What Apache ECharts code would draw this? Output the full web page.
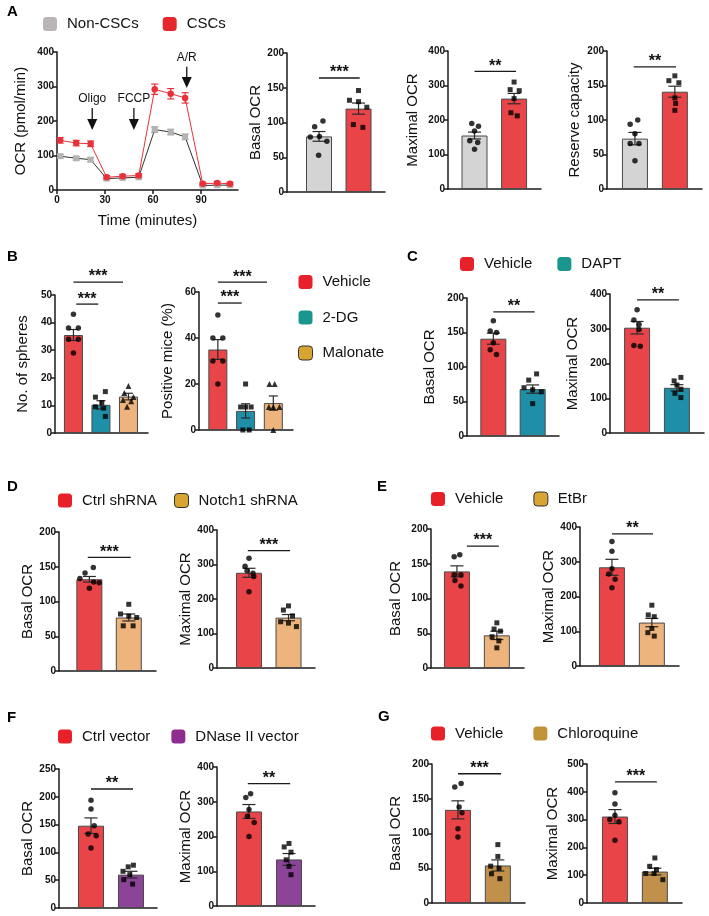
<!doctype html>
<html lang="en">
<head>
<meta charset="UTF-8">
<title>OCR panels</title>
<script src="https://cdn.jsdelivr.net/npm/echarts@6/dist/echarts.min.js"></script>
<style>
  html, body { margin: 0; padding: 0; background: #fff; }
  #main { width: 709px; height: 916px; }
</style>
</head>
<body>
<div id="main"></div>
<script>
// ---------- data ----------
// A: Seahorse trace
var timeMin      = [2, 12, 21, 31, 41, 51, 61, 71, 80, 91, 100, 108];
var ocrNonCsc    = [98, 92, 88, 33, 35, 37, 175, 168, 154, 13, 14, 14];
var ocrNonCscSem = [5, 5, 6, 4, 4, 4, 8, 8, 8, 3, 3, 3];
var ocrCsc       = [144, 136, 134, 37, 40, 42, 292, 279, 267, 18, 20, 18];
var ocrCscSem    = [8, 8, 8, 5, 5, 5, 15, 15, 15, 4, 4, 4];
var injections   = [['Oligo', 22, 238, 174], ['FCCP', 48, 238, 174], ['A/R', 81, 357, 296]];

// A bars
var aGroups = ['Non-CSCs', 'CSCs'];
var aBasalMean = [80, 120], aBasalSem = [7, 8];
var aBasalPts = [
  [[-0.22, 79], [-0.11, 94], [0.1, 102], [0.01, 80], [0.2, 73], [-0.01, 53]],
  [[0, 146], [-0.23, 132], [0, 130], [0.21, 122], [-0.13, 97], [0.11, 93]]
];
var aBasalSig = [[0, 1.03, 164, '***']];
var aMaxMean = [155, 262], aMaxSem = [10, 15];
var aMaxPts = [
  [[-0.07, 190], [0.1, 182], [0, 168], [-0.12, 140], [0.08, 135], [0, 115]],
  [[0, 310], [-0.1, 288], [0.13, 285], [0, 262], [-0.08, 221], [0.08, 212]]
];
var aMaxSig = [[0, 1.05, 341, '**']];
var aResMean = [73, 141], aResSem = [9, 8];
var aResPts = [
  [[-0.12, 94], [0.07, 100], [0, 80], [-0.12, 66], [0.1, 66], [0, 41]],
  [[0, 164], [-0.15, 157], [0.1, 154], [0, 132], [0.02, 124], [0, 114]]
];
var aResSig = [[-0.03, 1.03, 177, '**']];

// B
var bGroups = ['Vehicle', '2-DG', 'Malonate'];
var bSpheresMean = [35.5, 10.2, 13.2], bSpheresSem = [2, 1.5, 1.2];
var bSpheresPts = [
  [[0, 43], [-0.18, 38], [0.18, 38], [-0.18, 34], [0.18, 34], [0, 29]],
  [[0.16, 15], [-0.2, 13], [0.03, 11], [-0.2, 9.5], [0.1, 9], [0.16, 6]],
  [[0, 17], [-0.15, 14.5], [0.18, 13], [-0.2, 12], [0.1, 11.5], [-0.05, 9.5]]
];
var bSpheresSig = [[0, 1.8, 54.7, '***'], [0.1, 0.9, 46.7, '***']];
var bMiceMean = [35, 8.3, 11.7], bMiceSem = [4.3, 3.1, 3.1];
var bMicePts = [
  [[0, 50], [-0.18, 40], [0.18, 40], [-0.18, 30], [0.18, 30], [0, 20]],
  [[0, 20], [-0.18, 10], [0, 10], [0.2, 10], [-0.1, 0], [0.13, 0]],
  [[-0.14, 20], [0.05, 20], [-0.16, 10], [0, 10], [0.22, 10], [0, 0]]
];
var bMiceSig = [[0, 1.77, 64.3, '***'], [0, 0.86, 55.2, '***']];

// C
var cGroups = ['Vehicle', 'DAPT'];
var cBasalMean = [141, 68], cBasalSem = [8, 6];
var cBasalPts = [
  [[0, 167], [-0.08, 152], [0.08, 150], [0, 135], [-0.08, 125], [0.08, 118]],
  [[0.1, 90], [-0.1, 81], [-0.22, 70], [0, 67], [0.22, 64], [0, 47]]
];
var cBasalSig = [[0, 1.05, 180, '**']];
var cMaxMean = [303, 130], cMaxSem = [18, 9];
var cMaxPts = [
  [[0, 355], [-0.08, 325], [0.05, 312], [0.05, 298], [-0.08, 252], [0.08, 250]],
  [[0.1, 160], [-0.07, 150], [0, 138], [0.1, 126], [-0.05, 114], [0.1, 102]]
];
var cMaxSig = [[0, 1.05, 383, '**']];

// D
var dGroups = ['Ctrl shRNA', 'Notch1 shRNA'];
var dBasalMean = [132, 77], dBasalSem = [4, 5];
var dBasalPts = [
  [[0.1, 149], [-0.11, 141], [-0.24, 133], [0.11, 128], [0.25, 127], [0, 119]],
  [[0, 96], [-0.21, 82], [0, 79], [0.2, 77], [-0.14, 65], [0.11, 65]]
];
var dBasalSig = [[-0.04, 1.05, 163.6, '***']];
var dMaxMean = [276, 146], dMaxSem = [13, 9];
var dMaxPts = [
  [[0, 318], [-0.1, 295], [-0.05, 282], [0.1, 275], [0.12, 265], [0, 221]],
  [[0, 180], [-0.13, 168], [0.1, 151], [-0.2, 134], [0, 130], [0.2, 120]]
];
var dMaxSig = [[-0.03, 1.04, 340, '***']];

// E
var eGroups = ['Vehicle', 'EtBr'];
var eBasalMean = [139, 47], eBasalSem = [8, 6];
var eBasalPts = [
  [[-0.07, 160], [0.07, 163], [-0.07, 134], [0.1, 134], [-0.05, 126], [0.1, 118]],
  [[0, 65], [-0.07, 56], [0.09, 53], [-0.12, 45], [0.05, 39], [0, 29]]
];
var eBasalSig = [[0.25, 1.05, 175.5, '***']];
var eMaxMean = [284, 125], eMaxSem = [23, 12];
var eMaxPts = [
  [[0, 358], [0, 330], [0, 280], [-0.08, 265], [0.08, 250], [0, 225]],
  [[0, 175], [-0.09, 147], [0.06, 142], [0, 108], [-0.1, 96], [0.06, 86]]
];
var eMaxSig = [[0, 1.03, 380, '**']];

// F
var fGroups = ['Ctrl vector', 'DNase II vector'];
var fBasalMean = [148, 60], fBasalSem = [14, 6];
var fBasalPts = [
  [[0, 194], [0, 178], [0.08, 148], [-0.07, 133], [0.13, 130], [0, 108]],
  [[0.06, 77], [-0.07, 74], [-0.2, 66], [-0.03, 60], [-0.18, 51], [0.04, 43]]
];
var fBasalSig = [[0, 1.05, 214, '**']];
var fMaxMean = [272, 134], fMaxSem = [20, 17];
var fMaxPts = [
  [[0.04, 323], [-0.08, 312], [0, 278], [-0.04, 258], [0.13, 240], [0, 200]],
  [[0, 180], [-0.12, 170], [0.05, 155], [-0.07, 133], [0, 114], [0.05, 90]]
];
var fMaxSig = [[-0.03, 1.03, 352, '**']];

// G
var gGroups = ['Vehicle', 'Chloroquine'];
var gBasalMean = [134, 54], gBasalSem = [13, 8];
var gBasalPts = [
  [[0.08, 172], [-0.08, 167], [0.03, 138], [0.1, 130], [0, 107], [0, 95]],
  [[0, 84], [0, 67], [-0.18, 53], [0.03, 50], [-0.16, 42], [0.05, 35]]
];
var gBasalSig = [[0, 1.08, 186, '***']];
var gMaxMean = [311, 113], gMaxSem = [25, 12];
var gMaxPts = [
  [[0, 397], [0, 356], [0, 316], [-0.13, 300], [0.1, 292], [0, 226]],
  [[0, 162], [-0.13, 132], [0.04, 120], [-0.23, 106], [-0.02, 106], [0.2, 84]]
];
var gMaxSig = [[0, 1.05, 436, '***']];

// ---------- styles ----------
var FONT = '"Liberation Sans", Arial, Helvetica, sans-serif';
var INK = '#1b1b1b';
var RED = '#E94548', GRAY = '#D4D4D4', TEAL = '#1E8FA7', TAN = '#EEB47E',
    PURPLE = '#8B4497', BROWN = '#C1914C';

var axisLine = { show: true, onZero: false, lineStyle: { color: INK, width: 1.5 } };
var yTick = { show: true, length: 4, lineStyle: { color: INK, width: 1.5 } };
var tickLabel = { fontFamily: FONT, fontSize: 10, fontWeight: 'bold', color: '#111', margin: 3 };
var nameFont = { fontFamily: FONT, fontSize: 15, color: '#111' };

var grids = [], xAxes = [], yAxes = [], series = [];

function errorBars(capHalf, color) {
  return function (params, api) {
    var x = api.value(0), m = api.value(1), e = api.value(2);
    var hi = api.coord([x, m + e]), lo = api.coord([x, m - e]);
    var st = { stroke: color, lineWidth: 1.2 };
    return { type: 'group', children: [
      { type: 'line', shape: { x1: hi[0], y1: hi[1], x2: lo[0], y2: lo[1] }, style: st },
      { type: 'line', shape: { x1: hi[0] - capHalf, y1: hi[1], x2: hi[0] + capHalf, y2: hi[1] }, style: st },
      { type: 'line', shape: { x1: lo[0] - capHalf, y1: lo[1], x2: lo[0] + capHalf, y2: lo[1] }, style: st }
    ] };
  };
}

function sigRender(list) {
  return function (params, api) {
    var s = list[params.dataIndex];
    var a = api.coord([s[0], s[2]]), b = api.coord([s[1], s[2]]);
    return { type: 'group', children: [
      { type: 'line', shape: { x1: a[0], y1: a[1], x2: b[0], y2: b[1] }, style: { stroke: INK, lineWidth: 1.3 } },
      { type: 'text', x: (a[0] + b[0]) / 2, y: a[1] - 5,
        style: { text: s[3], font: 'bold 16px ' + FONT, fill: '#111', align: 'center', verticalAlign: 'middle' } }
    ] };
  };
}

function addBarChart(cfg) {
  var gi = grids.length;
  grids.push({ left: cfg.box[0], top: cfg.box[1], width: cfg.box[2], height: cfg.box[3], outerBoundsMode: 'none' });
  xAxes.push({ gridIndex: gi, type: 'value', min: cfg.xRange[0], max: cfg.xRange[1],
    axisLine: axisLine, axisTick: { show: false }, axisLabel: { show: false }, splitLine: { show: false } });
  yAxes.push({ gridIndex: gi, type: 'value', min: 0, max: cfg.yMax, interval: cfg.yStep,
    name: cfg.yName, nameLocation: 'middle', nameGap: cfg.nameGap, nameRotate: 90, nameTextStyle: nameFont,
    axisLine: axisLine, axisTick: yTick, axisLabel: tickLabel, splitLine: { show: false } });
  var three = cfg.groups.length === 3;
  cfg.groups.forEach(function (name, i) {
    series.push({ type: 'bar', name: name, xAxisIndex: gi, yAxisIndex: gi,
      barWidth: three ? 19 : 26, barGap: '-100%', data: [[i, cfg.mean[i]]],
      itemStyle: { color: cfg.colors[i], borderColor: '#4a4a4a', borderWidth: 1 }, z: 2 });
  });
  series.push({ type: 'custom', xAxisIndex: gi, yAxisIndex: gi, z: 3,
    renderItem: errorBars(three ? 4.5 : 6.5, '#2a2a2a'),
    data: cfg.mean.map(function (m, i) { return [i, m, cfg.sem[i]]; }) });
  cfg.groups.forEach(function (name, i) {
    var sym = cfg.symbols[i];
    series.push({ type: 'scatter', xAxisIndex: gi, yAxisIndex: gi, z: 4,
      symbol: sym, symbolSize: sym === 'triangle' ? 6 : (sym === 'rect' ? 5 : 5.5),
      itemStyle: { color: '#000' },
      data: cfg.pts[i].map(function (p) { return [i + p[0], p[1]]; }) });
  });
  series.push({ type: 'custom', xAxisIndex: gi, yAxisIndex: gi, z: 5,
    renderItem: sigRender(cfg.sig),
    data: cfg.sig.map(function (s) { return [s[0], s[2]]; }) });
}

// ---------- A: line chart ----------
grids.push({ left: 57, top: 52, width: 181, height: 138, outerBoundsMode: 'none' });
xAxes.push({ gridIndex: 0, type: 'value', min: 0, max: 113, interval: 30,
  name: 'Time (minutes)', nameLocation: 'middle', nameGap: 23, nameTextStyle: nameFont,
  axisLine: axisLine, axisTick: yTick,
  axisLabel: Object.assign({}, tickLabel, { margin: 5, showMaxLabel: false }), splitLine: { show: false } });
yAxes.push({ gridIndex: 0, type: 'value', min: 0, max: 400, interval: 100,
  name: 'OCR (pmol/min)', nameLocation: 'middle', nameGap: 29, nameRotate: 90, nameTextStyle: nameFont,
  axisLine: axisLine, axisTick: yTick, axisLabel: tickLabel, splitLine: { show: false } });
series.push({ type: 'line', name: 'Non-CSCs', xAxisIndex: 0, yAxisIndex: 0, z: 3,
  symbol: 'rect', symbolSize: 6, itemStyle: { color: '#B5B2B2' }, lineStyle: { color: '#333', width: 1 },
  data: timeMin.map(function (t, i) { return [t, ocrNonCsc[i]]; }) });
series.push({ type: 'custom', xAxisIndex: 0, yAxisIndex: 0, z: 2, renderItem: errorBars(3.5, '#9a9a9a'),
  data: timeMin.map(function (t, i) { return [t, ocrNonCsc[i], ocrNonCscSem[i]]; }) });
series.push({ type: 'line', name: 'CSCs', xAxisIndex: 0, yAxisIndex: 0, z: 3,
  symbol: 'circle', symbolSize: 6.5, itemStyle: { color: '#E8323A' }, lineStyle: { color: '#E8323A', width: 1 },
  data: timeMin.map(function (t, i) { return [t, ocrCsc[i]]; }) });
series.push({ type: 'custom', xAxisIndex: 0, yAxisIndex: 0, z: 2, renderItem: errorBars(3.5, '#E8323A'),
  data: timeMin.map(function (t, i) { return [t, ocrCsc[i], ocrCscSem[i]]; }) });
series.push({ type: 'custom', xAxisIndex: 0, yAxisIndex: 0, z: 4,
  renderItem: function (params, api) {
    var d = injections[params.dataIndex];
    var top = api.coord([d[1], d[2]]), tip = api.coord([d[1], d[3]]);
    return { type: 'group', children: [
      { type: 'text', x: top[0], y: top[1] - 3,
        style: { text: d[0], font: '12px ' + FONT, fill: '#111', align: 'center', verticalAlign: 'bottom' } },
      { type: 'line', shape: { x1: top[0], y1: top[1], x2: tip[0], y2: tip[1] - 9 }, style: { stroke: '#111', lineWidth: 1.3 } },
      { type: 'polygon', shape: { points: [[tip[0] - 5, tip[1] - 11], [tip[0] + 5, tip[1] - 11], [tip[0], tip[1]]] }, style: { fill: '#111' } }
    ] };
  },
  data: injections.map(function (d) { return [d[1], d[2]]; }) });

// ---------- bar panels ----------
var twoSym = ['circle', 'rect'];
addBarChart({ box: [287, 53, 98, 139], xRange: [-0.81, 1.67], yMax: 200, yStep: 50, yName: 'Basal OCR', nameGap: 23,
  groups: aGroups, colors: [GRAY, RED], symbols: twoSym, mean: aBasalMean, sem: aBasalSem, pts: aBasalPts, sig: aBasalSig });
addBarChart({ box: [448, 51, 93, 138], xRange: [-0.67, 1.68], yMax: 400, yStep: 100, yName: 'Maximal OCR', nameGap: 28,
  groups: aGroups, colors: [GRAY, RED], symbols: twoSym, mean: aMaxMean, sem: aMaxSem, pts: aMaxPts, sig: aMaxSig });
addBarChart({ box: [607, 51, 95, 138], xRange: [-0.7, 1.68], yMax: 200, yStep: 50, yName: 'Reserve capacity', nameGap: 25,
  groups: aGroups, colors: [GRAY, RED], symbols: twoSym, mean: aResMean, sem: aResSem, pts: aResPts, sig: aResSig });

addBarChart({ box: [55, 295, 93, 138], xRange: [-0.67, 2.71], yMax: 50, yStep: 10, yName: 'No. of spheres', nameGap: 25,
  groups: bGroups, colors: [RED, TEAL, TAN], symbols: ['circle', 'rect', 'triangle'], mean: bSpheresMean, sem: bSpheresSem, pts: bSpheresPts, sig: bSpheresSig });
addBarChart({ box: [199, 292, 94, 138], xRange: [-0.68, 2.71], yMax: 60, yStep: 20, yName: 'Positive mice (%)', nameGap: 24,
  groups: bGroups, colors: [RED, TEAL, TAN], symbols: ['circle', 'rect', 'triangle'], mean: bMiceMean, sem: bMiceSem, pts: bMicePts, sig: bMiceSig });

addBarChart({ box: [467, 298, 92, 138], xRange: [-0.67, 1.67], yMax: 200, yStep: 50, yName: 'Basal OCR', nameGap: 30,
  groups: cGroups, colors: [RED, TEAL], symbols: twoSym, mean: cBasalMean, sem: cBasalSem, pts: cBasalPts, sig: cBasalSig });
addBarChart({ box: [610, 294, 94, 139], xRange: [-0.68, 1.68], yMax: 400, yStep: 100, yName: 'Maximal OCR', nameGap: 30,
  groups: cGroups, colors: [RED, TEAL], symbols: twoSym, mean: cMaxMean, sem: cMaxSem, pts: cMaxPts, sig: cMaxSig });

addBarChart({ box: [59, 532, 97, 139], xRange: [-0.77, 1.69], yMax: 200, yStep: 50, yName: 'Basal OCR', nameGap: 24,
  groups: dGroups, colors: [RED, TAN], symbols: twoSym, mean: dBasalMean, sem: dBasalSem, pts: dBasalPts, sig: dBasalSig });
addBarChart({ box: [217, 530, 98, 138], xRange: [-0.81, 1.67], yMax: 400, yStep: 100, yName: 'Maximal OCR', nameGap: 23,
  groups: dGroups, colors: [RED, TAN], symbols: twoSym, mean: dMaxMean, sem: dMaxSem, pts: dMaxPts, sig: dMaxSig });

addBarChart({ box: [431, 529, 93, 139], xRange: [-0.65, 1.68], yMax: 200, yStep: 50, yName: 'Basal OCR', nameGap: 28,
  groups: eGroups, colors: [RED, TAN], symbols: twoSym, mean: eBasalMean, sem: eBasalSem, pts: eBasalPts, sig: eBasalSig });
addBarChart({ box: [580, 527, 99, 139], xRange: [-0.8, 1.68], yMax: 400, yStep: 100, yName: 'Maximal OCR', nameGap: 23,
  groups: eGroups, colors: [RED, TAN], symbols: twoSym, mean: eMaxMean, sem: eMaxSem, pts: eMaxPts, sig: eMaxSig });

addBarChart({ box: [59, 769, 98, 139], xRange: [-0.8, 1.65], yMax: 250, yStep: 50, yName: 'Basal OCR', nameGap: 23,
  groups: fGroups, colors: [RED, PURPLE], symbols: twoSym, mean: fBasalMean, sem: fBasalSem, pts: fBasalPts, sig: fBasalSig });
addBarChart({ box: [217, 767, 98, 139], xRange: [-0.8, 1.65], yMax: 400, yStep: 100, yName: 'Maximal OCR', nameGap: 24,
  groups: fGroups, colors: [RED, PURPLE], symbols: twoSym, mean: fMaxMean, sem: fMaxSem, pts: fMaxPts, sig: fMaxSig });

addBarChart({ box: [432, 764, 93, 139], xRange: [-0.65, 1.68], yMax: 200, yStep: 50, yName: 'Basal OCR', nameGap: 29,
  groups: gGroups, colors: [RED, BROWN], symbols: twoSym, mean: gBasalMean, sem: gBasalSem, pts: gBasalPts, sig: gBasalSig });
addBarChart({ box: [587, 764, 95, 139], xRange: [-0.7, 1.68], yMax: 500, yStep: 100, yName: 'Maximal OCR', nameGap: 27,
  groups: gGroups, colors: [RED, BROWN], symbols: twoSym, mean: gMaxMean, sem: gMaxSem, pts: gMaxPts, sig: gMaxSig });

// ---------- legends ----------
function legendItem(name, color, outlined) {
  return { name: name, itemStyle: { color: color, borderColor: outlined ? '#333' : color, borderWidth: outlined ? 1 : 0 } };
}
function legend(left, top, gap, items, vertical) {
  return { left: left, top: top, padding: 0, orient: vertical ? 'vertical' : 'horizontal', itemGap: gap,
    icon: 'roundRect', itemWidth: 14, itemHeight: 14, selectedMode: false,
    textStyle: { fontFamily: FONT, fontSize: 15, color: '#111', padding: [0, 0, 0, 5] }, data: items };
}
var LEG_RED = '#E8202A', LEG_GOLD = '#D8A532';
var legends = [
  legend(43, 16.5, 24, [legendItem('Non-CSCs', '#B9B5B5'), legendItem('CSCs', '#E6262D')]),
  legend(298, 274.5, 20.5, [legendItem('Vehicle', LEG_RED), legendItem('2-DG', '#1A968F'), legendItem('Malonate', LEG_GOLD, true)], true),
  legend(460, 256.5, 25, [legendItem('Vehicle', LEG_RED), legendItem('DAPT', '#1A968F')]),
  legend(58, 493, 17, [legendItem('Ctrl shRNA', LEG_RED), legendItem('Notch1 shRNA', LEG_GOLD, true)]),
  legend(431, 491.5, 30, [legendItem('Vehicle', LEG_RED), legendItem('EtBr', LEG_GOLD, true)]),
  legend(58, 729, 21, [legendItem('Ctrl vector', LEG_RED), legendItem('DNase II vector', '#8E2C90')]),
  legend(431, 726, 30, [legendItem('Vehicle', LEG_RED), legendItem('Chloroquine', '#C09436')])
];

// ---------- panel letters ----------
var letters = [['A', 7, 4], ['B', 7, 249], ['C', 407, 249], ['D', 7, 479], ['E', 377, 479], ['F', 7, 710], ['G', 378, 709]];

var myChart = echarts.init(document.getElementById('main'), null, { renderer: 'canvas' });
myChart.setOption({
  animation: false,
  backgroundColor: '#fff',
  grid: grids,
  xAxis: xAxes,
  yAxis: yAxes,
  legend: legends,
  graphic: letters.map(function (l) {
    return { type: 'text', left: l[1], top: l[2], style: { text: l[0], font: 'bold 15px ' + FONT, fill: '#000' } };
  }),
  series: series
});
window.onresize = function () { myChart.resize(); };
</script>
</body>
</html>
